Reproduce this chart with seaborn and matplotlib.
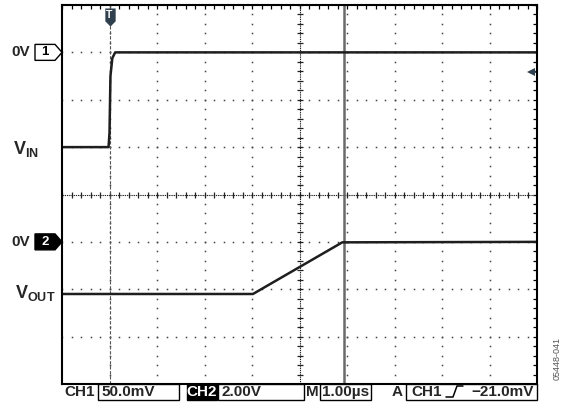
import numpy as np
import pandas as pd
import matplotlib
matplotlib.use("Agg")
import matplotlib.pyplot as plt
import seaborn as sns
from matplotlib.path import Path
from matplotlib.patches import Polygon, Rectangle
from matplotlib.lines import Line2D

# CH1 (V_IN), 50 mV/div, time in us (1 us/div)
ch1_t = [0.0, 0.98, 1.00, 1.02, 1.06, 1.12, 10.0]
ch1_mv = [-100.0, -100.0, -85.0, -25.0, -6.0, 0.0, 0.0]
# CH2 (V_OUT), 2 V/div
ch2_t = [0.0, 4.02, 5.90, 10.0]
ch2_v = [-2.2, -2.2, -0.02, 0.0]

ch1_scale_mv = 50.0
ch2_scale_v = 2.0
ch1_zero_div = 3.0
ch2_zero_div = -1.0
trig_t = 1.0
trig_level_mv = -21.0
cursor_t = 5.94

bottom_labels = ["CH1", "50.0mV", "CH2", "2.00V", "M", "1.00µs", "A", "CH1", "\u221221.0mV"]
fig_id = "05448-041"

sns.set_style("white")
plt.rcParams["font.family"] = ["Liberation Sans", "DejaVu Sans"]
plt.rcParams["mathtext.fontset"] = "custom"
plt.rcParams["mathtext.bf"] = "Liberation Sans:bold"
plt.rcParams["mathtext.rm"] = "Liberation Sans"

W, H = 564, 408
fig = plt.figure(figsize=(W / 100, H / 100), dpi=100)
ax = fig.add_axes([62 / W, 1 - 384 / H, 475 / W, 379 / H])
ax.set_xlim(0, 10)
ax.set_ylim(-4, 4)


def fx(px):
    return px / W


def fy(py):
    return 1 - py / H


# graticule dots
fine = np.arange(0, 10.001, 0.2)
fine_y = np.arange(-4, 4.001, 0.2)
for gx in range(1, 10):
    if gx == 5:
        continue
    ax.plot(np.full_like(fine_y, gx), fine_y, ls="", marker="s", ms=1.1,
            color="#444444", mew=0)
for gy in range(-3, 4):
    if gy == 0:
        continue
    ax.plot(fine, np.full_like(fine, gy), ls="", marker="s", ms=1.1,
            color="#444444", mew=0)

# centre cross with minor ticks
ax.plot([0, 10], [0, 0], color="#222222", lw=0.8, dashes=(1.2, 0.8))
ax.plot([5, 5], [-4, 4], color="#222222", lw=0.8, dashes=(1.2, 0.8))
ax.plot(fine, np.zeros_like(fine), ls="", marker="|", ms=4, mew=0.9, color="#222222")
ax.plot(np.full_like(fine_y, 5), fine_y, ls="", marker="_", ms=5, mew=0.9, color="#222222")

# trigger position line and cursor
ax.axvline(trig_t, color="#555555", lw=0.8, dashes=(3, 1.5))
ax.axvline(cursor_t, color="#6a6a6a", lw=1.8)

# traces
df1 = pd.DataFrame({"t": ch1_t, "div": ch1_zero_div + np.array(ch1_mv) / ch1_scale_mv})
df2 = pd.DataFrame({"t": ch2_t, "div": ch2_zero_div + np.array(ch2_v) / ch2_scale_v})
sns.lineplot(data=df1, x="t", y="div", ax=ax, color="#1e1e1e", lw=1.8, sort=False)
sns.lineplot(data=df2, x="t", y="div", ax=ax, color="#1e1e1e", lw=1.8, sort=False)

# trigger marker (top) and trigger level marker (right)
shield = Path([(-4, 7), (4, 7), (4, -3), (0, -7), (-4, -3), (-4, 7)],
              [Path.MOVETO, Path.LINETO, Path.LINETO, Path.LINETO, Path.LINETO, Path.CLOSEPOLY])
ax.plot([trig_t], [3.74], marker=shield, ms=13, color="#2f3f4e", mew=0, clip_on=False)
ax.text(trig_t, 3.78, "T", color="white", fontsize=7.5, fontweight="bold",
        ha="center", va="center")
lvl = ch1_zero_div + trig_level_mv / ch1_scale_mv
ax.plot([9.88], [lvl], marker="<", ms=6, color="#2f3f4e", mew=0)
ax.plot([9.88, 10], [lvl, lvl], color="#2f3f4e", lw=1.2)

# spines and border ticks
for s in ax.spines.values():
    s.set_color("black")
    s.set_linewidth(1.5)
ax.set_xticks(fine)
ax.set_yticks(fine_y)
ax.tick_params(direction="in", length=3, width=0.9, top=True, right=True,
               labelbottom=False, labelleft=False, color="black")
ax.set_xlabel("")
ax.set_ylabel("")

# left channel labels
ytr = ax.get_yaxis_transform()
for lvl_div, num, filled in [(ch1_zero_div, "1", False), (ch2_zero_div, "2", True)]:
    h = 8 / 47.5
    pts = [(-27 / 475, lvl_div + h), (-7 / 475, lvl_div + h), (0, lvl_div),
           (-7 / 475, lvl_div - h), (-27 / 475, lvl_div - h)]
    ax.add_patch(Polygon(pts, closed=True, transform=ytr, clip_on=False,
                         facecolor="black" if filled else "white",
                         edgecolor="black", lw=1.0))
    ax.text(-17 / 475, lvl_div, num, transform=ytr, ha="center", va="center",
            fontsize=9.5, fontweight="bold", color="white" if filled else "black")
    ax.text(-32 / 475, lvl_div, "0V", transform=ytr, ha="right", va="center",
            fontsize=11, fontweight="bold")

vin_div = ch1_zero_div + ch1_mv[0] / ch1_scale_mv
vout_div = ch2_zero_div + ch2_v[0] / ch2_scale_v
ax.text(-49 / 475, vin_div - 0.03, r"$\mathbf{V_{IN}}$", transform=ytr, ha="left",
        va="center", fontsize=13)
ax.text(-47 / 475, vout_div + 0.03, r"$\mathbf{V_{OUT}}$", transform=ytr, ha="left",
        va="center", fontsize=13)

# bottom readout
by0, by1 = 384, 400
ty = fy(392)


def box(x0, x1, filled=False):
    fig.add_artist(Rectangle((fx(x0), fy(by1)), fx(x1) - fx(x0), fy(by0) - fy(by1),
                             transform=fig.transFigure, facecolor="black" if filled else "white",
                             edgecolor="black", lw=1.0))


box(98, 179)
box(187, 217, filled=True)
box(218, 304)
box(320, 371)
box(406, 537)
tkw = dict(transform=fig.transFigure, va="center", fontsize=11, fontweight="bold")
fig.text(fx(64), ty, bottom_labels[0], ha="left", **tkw)
fig.text(fx(101), ty, bottom_labels[1], ha="left", **tkw)
fig.text(fx(202), ty, bottom_labels[2], ha="center", color="white", **tkw)
fig.text(fx(221), ty, bottom_labels[3], ha="left", **tkw)
fig.text(fx(312.5), ty, bottom_labels[4], ha="center", **tkw)
fig.text(fx(322), ty, bottom_labels[5], ha="left", **tkw)
fig.text(fx(397), ty, bottom_labels[6], ha="center", **tkw)
fig.text(fx(411), ty, bottom_labels[7], ha="left", **tkw)
fig.text(fx(534), ty, bottom_labels[8], ha="right", **tkw)
# rising edge symbol
fig.add_artist(Line2D([fx(446), fx(453), fx(457), fx(463)],
                      [fy(397), fy(397), fy(386), fy(386)],
                      transform=fig.transFigure, color="black", lw=1.1))

fig.text(fx(557), fy(358), fig_id, rotation=90, ha="center", va="center",
         fontsize=6.5, color="#555555")

fig.savefig("out.png", dpi=100, facecolor="white")
